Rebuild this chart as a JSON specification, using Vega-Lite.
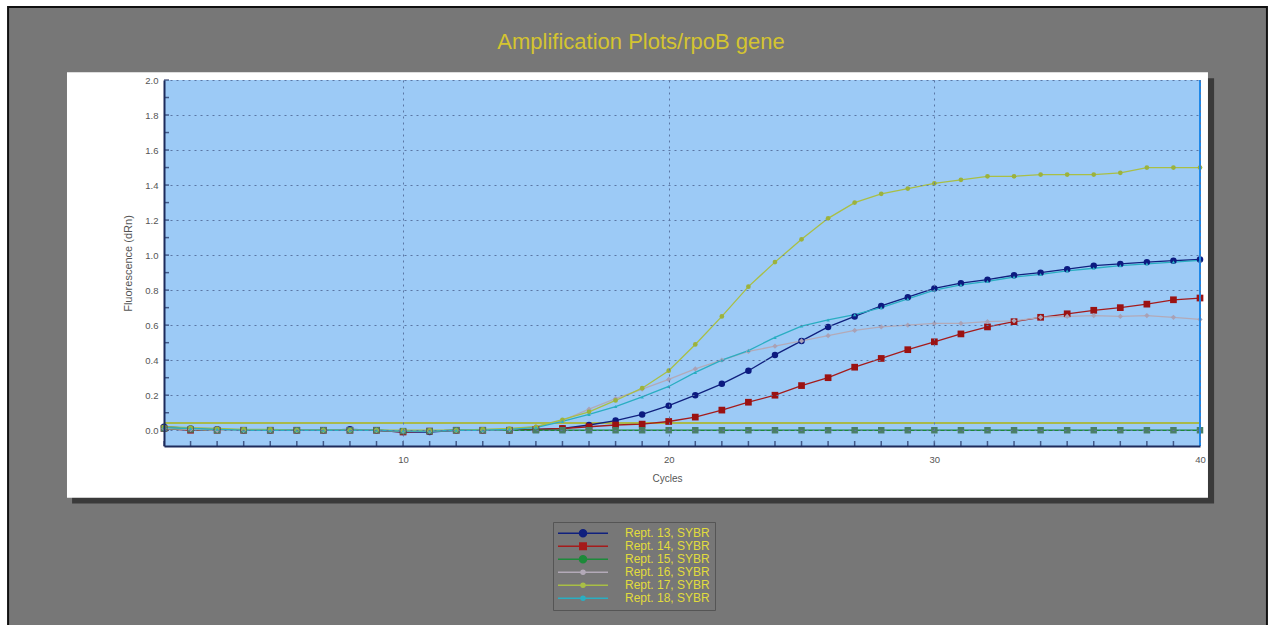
{
  "$schema": "https://vega.github.io/schema/vega-lite/v6.json",
  "width": 1036,
  "height": 366,
  "autosize": {"type": "none"},
  "padding": {"left": 164, "top": 80, "right": 72, "bottom": 179},
  "background": "#ffffff",
  "config": {"view": {"stroke": null}, "font": "Liberation Sans"},
  "title": {"text": "Amplification Plots/rpoB gene", "color": "#d4c430", "fontSize": 22, "fontWeight": "normal", "font": "Liberation Sans", "anchor": "middle", "dx": -41, "dy": 48, "offset": 0},
  "datasets": {
    "frame": [{}],
    "threshold": [{"level": 0.042}],
    "yticks": [{"v":0.0},{"v":0.1},{"v":0.2},{"v":0.3},{"v":0.4},{"v":0.5},{"v":0.6},{"v":0.7},{"v":0.8},{"v":0.9},{"v":1.0},{"v":1.1},{"v":1.2},{"v":1.3},{"v":1.4},{"v":1.5},{"v":1.6},{"v":1.7},{"v":1.8},{"v":1.9},{"v":2.0}],
    "curves": [
      {"cycle":1,"sample":"Rept. 13, SYBR","dRn":0.02},{"cycle":2,"sample":"Rept. 13, SYBR","dRn":0.01},{"cycle":3,"sample":"Rept. 13, SYBR","dRn":0.005},{"cycle":4,"sample":"Rept. 13, SYBR","dRn":0.0},{"cycle":5,"sample":"Rept. 13, SYBR","dRn":0.0},{"cycle":6,"sample":"Rept. 13, SYBR","dRn":0.0},{"cycle":7,"sample":"Rept. 13, SYBR","dRn":0.0},{"cycle":8,"sample":"Rept. 13, SYBR","dRn":0.005},{"cycle":9,"sample":"Rept. 13, SYBR","dRn":0.0},{"cycle":10,"sample":"Rept. 13, SYBR","dRn":-0.01},
      {"cycle":11,"sample":"Rept. 13, SYBR","dRn":-0.01},{"cycle":12,"sample":"Rept. 13, SYBR","dRn":0.0},{"cycle":13,"sample":"Rept. 13, SYBR","dRn":0.0},{"cycle":14,"sample":"Rept. 13, SYBR","dRn":0.0},{"cycle":15,"sample":"Rept. 13, SYBR","dRn":0.005},{"cycle":16,"sample":"Rept. 13, SYBR","dRn":0.01},{"cycle":17,"sample":"Rept. 13, SYBR","dRn":0.03},{"cycle":18,"sample":"Rept. 13, SYBR","dRn":0.055},{"cycle":19,"sample":"Rept. 13, SYBR","dRn":0.09},{"cycle":20,"sample":"Rept. 13, SYBR","dRn":0.14},
      {"cycle":21,"sample":"Rept. 13, SYBR","dRn":0.2},{"cycle":22,"sample":"Rept. 13, SYBR","dRn":0.265},{"cycle":23,"sample":"Rept. 13, SYBR","dRn":0.34},{"cycle":24,"sample":"Rept. 13, SYBR","dRn":0.43},{"cycle":25,"sample":"Rept. 13, SYBR","dRn":0.51},{"cycle":26,"sample":"Rept. 13, SYBR","dRn":0.59},{"cycle":27,"sample":"Rept. 13, SYBR","dRn":0.65},{"cycle":28,"sample":"Rept. 13, SYBR","dRn":0.71},{"cycle":29,"sample":"Rept. 13, SYBR","dRn":0.76},{"cycle":30,"sample":"Rept. 13, SYBR","dRn":0.81},
      {"cycle":31,"sample":"Rept. 13, SYBR","dRn":0.84},{"cycle":32,"sample":"Rept. 13, SYBR","dRn":0.86},{"cycle":33,"sample":"Rept. 13, SYBR","dRn":0.885},{"cycle":34,"sample":"Rept. 13, SYBR","dRn":0.9},{"cycle":35,"sample":"Rept. 13, SYBR","dRn":0.92},{"cycle":36,"sample":"Rept. 13, SYBR","dRn":0.94},{"cycle":37,"sample":"Rept. 13, SYBR","dRn":0.95},{"cycle":38,"sample":"Rept. 13, SYBR","dRn":0.96},{"cycle":39,"sample":"Rept. 13, SYBR","dRn":0.968},{"cycle":40,"sample":"Rept. 13, SYBR","dRn":0.975},

      {"cycle":1,"sample":"Rept. 14, SYBR","dRn":0.01},{"cycle":2,"sample":"Rept. 14, SYBR","dRn":0.0},{"cycle":3,"sample":"Rept. 14, SYBR","dRn":0.0},{"cycle":4,"sample":"Rept. 14, SYBR","dRn":0.0},{"cycle":5,"sample":"Rept. 14, SYBR","dRn":0.0},{"cycle":6,"sample":"Rept. 14, SYBR","dRn":0.0},{"cycle":7,"sample":"Rept. 14, SYBR","dRn":0.0},{"cycle":8,"sample":"Rept. 14, SYBR","dRn":0.0},{"cycle":9,"sample":"Rept. 14, SYBR","dRn":0.0},{"cycle":10,"sample":"Rept. 14, SYBR","dRn":-0.01},
      {"cycle":11,"sample":"Rept. 14, SYBR","dRn":-0.005},{"cycle":12,"sample":"Rept. 14, SYBR","dRn":0.0},{"cycle":13,"sample":"Rept. 14, SYBR","dRn":0.0},{"cycle":14,"sample":"Rept. 14, SYBR","dRn":0.0},{"cycle":15,"sample":"Rept. 14, SYBR","dRn":0.005},{"cycle":16,"sample":"Rept. 14, SYBR","dRn":0.01},{"cycle":17,"sample":"Rept. 14, SYBR","dRn":0.02},{"cycle":18,"sample":"Rept. 14, SYBR","dRn":0.03},{"cycle":19,"sample":"Rept. 14, SYBR","dRn":0.035},{"cycle":20,"sample":"Rept. 14, SYBR","dRn":0.05},
      {"cycle":21,"sample":"Rept. 14, SYBR","dRn":0.075},{"cycle":22,"sample":"Rept. 14, SYBR","dRn":0.115},{"cycle":23,"sample":"Rept. 14, SYBR","dRn":0.16},{"cycle":24,"sample":"Rept. 14, SYBR","dRn":0.2},{"cycle":25,"sample":"Rept. 14, SYBR","dRn":0.255},{"cycle":26,"sample":"Rept. 14, SYBR","dRn":0.3},{"cycle":27,"sample":"Rept. 14, SYBR","dRn":0.36},{"cycle":28,"sample":"Rept. 14, SYBR","dRn":0.41},{"cycle":29,"sample":"Rept. 14, SYBR","dRn":0.46},{"cycle":30,"sample":"Rept. 14, SYBR","dRn":0.505},
      {"cycle":31,"sample":"Rept. 14, SYBR","dRn":0.55},{"cycle":32,"sample":"Rept. 14, SYBR","dRn":0.59},{"cycle":33,"sample":"Rept. 14, SYBR","dRn":0.62},{"cycle":34,"sample":"Rept. 14, SYBR","dRn":0.645},{"cycle":35,"sample":"Rept. 14, SYBR","dRn":0.665},{"cycle":36,"sample":"Rept. 14, SYBR","dRn":0.685},{"cycle":37,"sample":"Rept. 14, SYBR","dRn":0.7},{"cycle":38,"sample":"Rept. 14, SYBR","dRn":0.72},{"cycle":39,"sample":"Rept. 14, SYBR","dRn":0.745},{"cycle":40,"sample":"Rept. 14, SYBR","dRn":0.755},

      {"cycle":1,"sample":"Rept. 15, SYBR","dRn":0.01},{"cycle":2,"sample":"Rept. 15, SYBR","dRn":0.005},{"cycle":3,"sample":"Rept. 15, SYBR","dRn":0.0},{"cycle":4,"sample":"Rept. 15, SYBR","dRn":0.0},{"cycle":5,"sample":"Rept. 15, SYBR","dRn":0.0},{"cycle":6,"sample":"Rept. 15, SYBR","dRn":0.0},{"cycle":7,"sample":"Rept. 15, SYBR","dRn":0.0},{"cycle":8,"sample":"Rept. 15, SYBR","dRn":0.0},{"cycle":9,"sample":"Rept. 15, SYBR","dRn":0.0},{"cycle":10,"sample":"Rept. 15, SYBR","dRn":-0.005},
      {"cycle":11,"sample":"Rept. 15, SYBR","dRn":-0.005},{"cycle":12,"sample":"Rept. 15, SYBR","dRn":0.0},{"cycle":13,"sample":"Rept. 15, SYBR","dRn":0.0},{"cycle":14,"sample":"Rept. 15, SYBR","dRn":0.0},{"cycle":15,"sample":"Rept. 15, SYBR","dRn":0.0},{"cycle":16,"sample":"Rept. 15, SYBR","dRn":0.0},{"cycle":17,"sample":"Rept. 15, SYBR","dRn":0.0},{"cycle":18,"sample":"Rept. 15, SYBR","dRn":0.0},{"cycle":19,"sample":"Rept. 15, SYBR","dRn":0.0},{"cycle":20,"sample":"Rept. 15, SYBR","dRn":0.0},
      {"cycle":21,"sample":"Rept. 15, SYBR","dRn":0.0},{"cycle":22,"sample":"Rept. 15, SYBR","dRn":0.0},{"cycle":23,"sample":"Rept. 15, SYBR","dRn":0.0},{"cycle":24,"sample":"Rept. 15, SYBR","dRn":0.0},{"cycle":25,"sample":"Rept. 15, SYBR","dRn":0.0},{"cycle":26,"sample":"Rept. 15, SYBR","dRn":0.0},{"cycle":27,"sample":"Rept. 15, SYBR","dRn":0.0},{"cycle":28,"sample":"Rept. 15, SYBR","dRn":0.0},{"cycle":29,"sample":"Rept. 15, SYBR","dRn":0.0},{"cycle":30,"sample":"Rept. 15, SYBR","dRn":0.0},
      {"cycle":31,"sample":"Rept. 15, SYBR","dRn":0.0},{"cycle":32,"sample":"Rept. 15, SYBR","dRn":0.0},{"cycle":33,"sample":"Rept. 15, SYBR","dRn":0.0},{"cycle":34,"sample":"Rept. 15, SYBR","dRn":0.0},{"cycle":35,"sample":"Rept. 15, SYBR","dRn":0.0},{"cycle":36,"sample":"Rept. 15, SYBR","dRn":0.0},{"cycle":37,"sample":"Rept. 15, SYBR","dRn":0.0},{"cycle":38,"sample":"Rept. 15, SYBR","dRn":0.0},{"cycle":39,"sample":"Rept. 15, SYBR","dRn":0.0},{"cycle":40,"sample":"Rept. 15, SYBR","dRn":0.0},

      {"cycle":1,"sample":"Rept. 16, SYBR","dRn":0.01},{"cycle":2,"sample":"Rept. 16, SYBR","dRn":0.005},{"cycle":3,"sample":"Rept. 16, SYBR","dRn":0.0},{"cycle":4,"sample":"Rept. 16, SYBR","dRn":0.0},{"cycle":5,"sample":"Rept. 16, SYBR","dRn":0.0},{"cycle":6,"sample":"Rept. 16, SYBR","dRn":0.0},{"cycle":7,"sample":"Rept. 16, SYBR","dRn":0.0},{"cycle":8,"sample":"Rept. 16, SYBR","dRn":0.0},{"cycle":9,"sample":"Rept. 16, SYBR","dRn":0.0},{"cycle":10,"sample":"Rept. 16, SYBR","dRn":-0.005},
      {"cycle":11,"sample":"Rept. 16, SYBR","dRn":-0.005},{"cycle":12,"sample":"Rept. 16, SYBR","dRn":0.0},{"cycle":13,"sample":"Rept. 16, SYBR","dRn":0.0},{"cycle":14,"sample":"Rept. 16, SYBR","dRn":0.005},{"cycle":15,"sample":"Rept. 16, SYBR","dRn":0.02},{"cycle":16,"sample":"Rept. 16, SYBR","dRn":0.055},{"cycle":17,"sample":"Rept. 16, SYBR","dRn":0.12},{"cycle":18,"sample":"Rept. 16, SYBR","dRn":0.18},{"cycle":19,"sample":"Rept. 16, SYBR","dRn":0.235},{"cycle":20,"sample":"Rept. 16, SYBR","dRn":0.29},
      {"cycle":21,"sample":"Rept. 16, SYBR","dRn":0.35},{"cycle":22,"sample":"Rept. 16, SYBR","dRn":0.4},{"cycle":23,"sample":"Rept. 16, SYBR","dRn":0.45},{"cycle":24,"sample":"Rept. 16, SYBR","dRn":0.48},{"cycle":25,"sample":"Rept. 16, SYBR","dRn":0.51},{"cycle":26,"sample":"Rept. 16, SYBR","dRn":0.54},{"cycle":27,"sample":"Rept. 16, SYBR","dRn":0.57},{"cycle":28,"sample":"Rept. 16, SYBR","dRn":0.59},{"cycle":29,"sample":"Rept. 16, SYBR","dRn":0.6},{"cycle":30,"sample":"Rept. 16, SYBR","dRn":0.61},
      {"cycle":31,"sample":"Rept. 16, SYBR","dRn":0.61},{"cycle":32,"sample":"Rept. 16, SYBR","dRn":0.62},{"cycle":33,"sample":"Rept. 16, SYBR","dRn":0.625},{"cycle":34,"sample":"Rept. 16, SYBR","dRn":0.645},{"cycle":35,"sample":"Rept. 16, SYBR","dRn":0.65},{"cycle":36,"sample":"Rept. 16, SYBR","dRn":0.655},{"cycle":37,"sample":"Rept. 16, SYBR","dRn":0.65},{"cycle":38,"sample":"Rept. 16, SYBR","dRn":0.655},{"cycle":39,"sample":"Rept. 16, SYBR","dRn":0.645},{"cycle":40,"sample":"Rept. 16, SYBR","dRn":0.633},

      {"cycle":1,"sample":"Rept. 17, SYBR","dRn":0.02},{"cycle":2,"sample":"Rept. 17, SYBR","dRn":0.015},{"cycle":3,"sample":"Rept. 17, SYBR","dRn":0.01},{"cycle":4,"sample":"Rept. 17, SYBR","dRn":0.005},{"cycle":5,"sample":"Rept. 17, SYBR","dRn":0.005},{"cycle":6,"sample":"Rept. 17, SYBR","dRn":0.0},{"cycle":7,"sample":"Rept. 17, SYBR","dRn":0.0},{"cycle":8,"sample":"Rept. 17, SYBR","dRn":0.0},{"cycle":9,"sample":"Rept. 17, SYBR","dRn":0.0},{"cycle":10,"sample":"Rept. 17, SYBR","dRn":0.0},
      {"cycle":11,"sample":"Rept. 17, SYBR","dRn":0.0},{"cycle":12,"sample":"Rept. 17, SYBR","dRn":0.0},{"cycle":13,"sample":"Rept. 17, SYBR","dRn":0.005},{"cycle":14,"sample":"Rept. 17, SYBR","dRn":0.01},{"cycle":15,"sample":"Rept. 17, SYBR","dRn":0.02},{"cycle":16,"sample":"Rept. 17, SYBR","dRn":0.06},{"cycle":17,"sample":"Rept. 17, SYBR","dRn":0.105},{"cycle":18,"sample":"Rept. 17, SYBR","dRn":0.17},{"cycle":19,"sample":"Rept. 17, SYBR","dRn":0.24},{"cycle":20,"sample":"Rept. 17, SYBR","dRn":0.34},
      {"cycle":21,"sample":"Rept. 17, SYBR","dRn":0.49},{"cycle":22,"sample":"Rept. 17, SYBR","dRn":0.65},{"cycle":23,"sample":"Rept. 17, SYBR","dRn":0.82},{"cycle":24,"sample":"Rept. 17, SYBR","dRn":0.96},{"cycle":25,"sample":"Rept. 17, SYBR","dRn":1.09},{"cycle":26,"sample":"Rept. 17, SYBR","dRn":1.21},{"cycle":27,"sample":"Rept. 17, SYBR","dRn":1.3},{"cycle":28,"sample":"Rept. 17, SYBR","dRn":1.35},{"cycle":29,"sample":"Rept. 17, SYBR","dRn":1.38},{"cycle":30,"sample":"Rept. 17, SYBR","dRn":1.41},
      {"cycle":31,"sample":"Rept. 17, SYBR","dRn":1.43},{"cycle":32,"sample":"Rept. 17, SYBR","dRn":1.45},{"cycle":33,"sample":"Rept. 17, SYBR","dRn":1.45},{"cycle":34,"sample":"Rept. 17, SYBR","dRn":1.46},{"cycle":35,"sample":"Rept. 17, SYBR","dRn":1.46},{"cycle":36,"sample":"Rept. 17, SYBR","dRn":1.46},{"cycle":37,"sample":"Rept. 17, SYBR","dRn":1.47},{"cycle":38,"sample":"Rept. 17, SYBR","dRn":1.5},{"cycle":39,"sample":"Rept. 17, SYBR","dRn":1.5},{"cycle":40,"sample":"Rept. 17, SYBR","dRn":1.5},

      {"cycle":1,"sample":"Rept. 18, SYBR","dRn":0.015},{"cycle":2,"sample":"Rept. 18, SYBR","dRn":0.01},{"cycle":3,"sample":"Rept. 18, SYBR","dRn":0.005},{"cycle":4,"sample":"Rept. 18, SYBR","dRn":0.0},{"cycle":5,"sample":"Rept. 18, SYBR","dRn":0.0},{"cycle":6,"sample":"Rept. 18, SYBR","dRn":0.0},{"cycle":7,"sample":"Rept. 18, SYBR","dRn":0.0},{"cycle":8,"sample":"Rept. 18, SYBR","dRn":0.0},{"cycle":9,"sample":"Rept. 18, SYBR","dRn":0.0},{"cycle":10,"sample":"Rept. 18, SYBR","dRn":-0.005},
      {"cycle":11,"sample":"Rept. 18, SYBR","dRn":-0.005},{"cycle":12,"sample":"Rept. 18, SYBR","dRn":0.0},{"cycle":13,"sample":"Rept. 18, SYBR","dRn":0.0},{"cycle":14,"sample":"Rept. 18, SYBR","dRn":0.005},{"cycle":15,"sample":"Rept. 18, SYBR","dRn":0.015},{"cycle":16,"sample":"Rept. 18, SYBR","dRn":0.05},{"cycle":17,"sample":"Rept. 18, SYBR","dRn":0.09},{"cycle":18,"sample":"Rept. 18, SYBR","dRn":0.135},{"cycle":19,"sample":"Rept. 18, SYBR","dRn":0.19},{"cycle":20,"sample":"Rept. 18, SYBR","dRn":0.25},
      {"cycle":21,"sample":"Rept. 18, SYBR","dRn":0.33},{"cycle":22,"sample":"Rept. 18, SYBR","dRn":0.4},{"cycle":23,"sample":"Rept. 18, SYBR","dRn":0.455},{"cycle":24,"sample":"Rept. 18, SYBR","dRn":0.53},{"cycle":25,"sample":"Rept. 18, SYBR","dRn":0.595},{"cycle":26,"sample":"Rept. 18, SYBR","dRn":0.63},{"cycle":27,"sample":"Rept. 18, SYBR","dRn":0.66},{"cycle":28,"sample":"Rept. 18, SYBR","dRn":0.7},{"cycle":29,"sample":"Rept. 18, SYBR","dRn":0.75},{"cycle":30,"sample":"Rept. 18, SYBR","dRn":0.8},
      {"cycle":31,"sample":"Rept. 18, SYBR","dRn":0.83},{"cycle":32,"sample":"Rept. 18, SYBR","dRn":0.85},{"cycle":33,"sample":"Rept. 18, SYBR","dRn":0.875},{"cycle":34,"sample":"Rept. 18, SYBR","dRn":0.89},{"cycle":35,"sample":"Rept. 18, SYBR","dRn":0.91},{"cycle":36,"sample":"Rept. 18, SYBR","dRn":0.925},{"cycle":37,"sample":"Rept. 18, SYBR","dRn":0.94},{"cycle":38,"sample":"Rept. 18, SYBR","dRn":0.95},{"cycle":39,"sample":"Rept. 18, SYBR","dRn":0.96},{"cycle":40,"sample":"Rept. 18, SYBR","dRn":0.97}
    ]
  },
  "layer": [
    {
      "data": {"name": "frame"},
      "mark": {"type": "rect", "fill": "#777777", "stroke": "#111111", "strokeWidth": 2},
      "encoding": {
        "x": {"datum": -4.87, "type": "quantitative", "scale": {"domain": [1, 40], "nice": false, "zero": false}},
        "x2": {"datum": 42.52},
        "y": {"datum": 2.417, "type": "quantitative", "scale": {"domain": [-0.09, 2.0], "nice": false, "zero": false}},
        "y2": {"datum": -1.3}
      }
    },
    {
      "data": {"name": "frame"},
      "mark": {"type": "rect", "fill": "#3a3a3a"},
      "encoding": {
        "x": {"datum": -2.46, "type": "quantitative", "scale": {"domain": [1, 40], "nice": false, "zero": false}},
        "x2": {"datum": 40.53},
        "y": {"datum": 2.01, "type": "quantitative", "scale": {"domain": [-0.09, 2.0], "nice": false, "zero": false}},
        "y2": {"datum": -0.419}
      }
    },
    {
      "data": {"name": "frame"},
      "mark": {"type": "rect", "fill": "#ffffff"},
      "encoding": {
        "x": {"datum": -2.652, "type": "quantitative", "scale": {"domain": [1, 40], "nice": false, "zero": false}},
        "x2": {"datum": 40.3},
        "y": {"datum": 2.044, "type": "quantitative", "scale": {"domain": [-0.09, 2.0], "nice": false, "zero": false}},
        "y2": {"datum": -0.385}
      }
    },
    {
      "data": {"name": "frame"},
      "mark": {"type": "rect", "fill": "#9ccaf6"},
      "encoding": {
        "x": {"datum": 1, "type": "quantitative", "scale": {"domain": [1, 40], "nice": false, "zero": false}},
        "x2": {"datum": 40},
        "y": {"datum": 2.0, "type": "quantitative", "scale": {"domain": [-0.09, 2.0], "nice": false, "zero": false}},
        "y2": {"datum": -0.09}
      }
    },
    {
      "data": {"name": "curves"},
      "transform": [{"filter": {"field": "sample", "equal": "Rept. 13, SYBR"}}],
      "mark": {"type": "tick", "orient": "vertical", "color": "#1c2b5c", "size": 5, "thickness": 1.5, "yOffset": -2.5},
      "encoding": {
        "x": {"field": "cycle", "type": "quantitative", "scale": {"domain": [1, 40], "nice": false, "zero": false}},
        "y": {"datum": -0.09, "type": "quantitative", "scale": {"domain": [-0.09, 2.0], "nice": false, "zero": false}}
      }
    },
    {
      "data": {"name": "yticks"},
      "mark": {"type": "tick", "orient": "horizontal", "color": "#1c2b5c", "size": 5, "thickness": 1.5, "xOffset": 2.5},
      "encoding": {
        "x": {"datum": 1, "type": "quantitative", "scale": {"domain": [1, 40], "nice": false, "zero": false}},
        "y": {"field": "v", "type": "quantitative", "scale": {"domain": [-0.09, 2.0], "nice": false, "zero": false}}
      }
    },
    {
      "data": {"name": "threshold"},
      "mark": {"type": "rule", "color": "#a9b94a", "strokeWidth": 2},
      "encoding": {
        "y": {"field": "level", "type": "quantitative", "scale": {"domain": [-0.09, 2.0], "nice": false, "zero": false}}
      }
    },
    {
      "data": {"name": "curves"},
      "mark": {"type": "line", "strokeWidth": 1.3},
      "encoding": {
        "x": {"field": "cycle", "type": "quantitative", "scale": {"domain": [1, 40], "nice": false, "zero": false},
          "axis": {"title": "Cycles", "titleX": 503, "titleFontSize": 10, "titleFontWeight": "normal", "titleColor": "#555555", "titlePadding": 10,
            "values": [10, 20, 30, 40], "tickCount": 100, "format": "d", "labelOverlap": false,
            "labelFontSize": 9.5, "labelColor": "#555555", "labelPadding": 8, "labelFlush": false,
            "ticks": false,
            "domainColor": "#1c2b5c", "domainWidth": 2,
            "grid": true, "gridColor": "#5a76a4", "gridDash": [2, 4], "gridWidth": 1,
            "zindex": 1}},
        "y": {"field": "dRn", "type": "quantitative", "scale": {"domain": [-0.09, 2.0], "nice": false, "zero": false},
          "axis": {"title": "Fluorescence (dRn)", "titleFontSize": 11, "titleFontWeight": "normal", "titleColor": "#555555", "titlePadding": 11,
            "values": [0.0, 0.2, 0.4, 0.6, 0.8, 1.0, 1.2, 1.4, 1.6, 1.8, 2.0], "tickCount": 100, "format": ".1f", "labelOverlap": false,
            "labelFontSize": 9.5, "labelColor": "#555555", "labelPadding": 6,
            "ticks": false,
            "domainColor": "#1c2b5c", "domainWidth": 2,
            "grid": true, "gridColor": "#5a76a4", "gridDash": [2, 4], "gridWidth": 1,
            "zindex": 1}},
        "color": {"field": "sample", "type": "nominal",
          "scale": {"domain": ["Rept. 13, SYBR","Rept. 14, SYBR","Rept. 15, SYBR","Rept. 16, SYBR","Rept. 17, SYBR","Rept. 18, SYBR"],
                    "range": ["#10207e","#a51b1b","#1d8a3a","#b3aab8","#a9bf45","#2aaec2"]},
          "legend": {"orient": "none", "legendX": 389, "legendY": 442, "title": null,
            "fillColor": "#777777", "strokeColor": "#555555", "padding": 5,
            "labelColor": "#e2dc3c", "labelFontSize": 12, "labelFont": "Liberation Sans",
            "symbolType": "M-5,0H5M-0.7,0A0.7,0.7,0,1,0,0.7,0A0.7,0.7,0,1,0,-0.7,0Z",
            "symbolSize": 100, "symbolStrokeWidth": 1.5, "symbolOffset": 19, "labelOffset": 36, "rowPadding": 0, "clipHeight": 12.6,
            "encode": {"symbols": {"update": {
              "fill": {"scale": "color", "field": "value"},
              "shape": {"signal": "datum.value === 'Rept. 14, SYBR' ? 'M-5,0H5M-0.65,-0.65H0.65V0.65H-0.65Z' : (datum.value === 'Rept. 13, SYBR' || datum.value === 'Rept. 15, SYBR') ? 'M-5,0H5M-0.7,0A0.7,0.7,0,1,0,0.7,0A0.7,0.7,0,1,0,-0.7,0Z' : 'M-5,0H5M-0.4,0A0.4,0.4,0,1,0,0.4,0A0.4,0.4,0,1,0,-0.4,0Z'"}
            }}}}
        }
      }
    },
    {
      "data": {"name": "curves"},
      "transform": [{"filter": {"field": "sample", "equal": "Rept. 13, SYBR"}}],
      "mark": {"type": "point", "filled": true, "opacity": 1, "shape": "circle", "size": 42, "color": "#0c1a80"},
      "encoding": {
        "x": {"field": "cycle", "type": "quantitative", "scale": {"domain": [1, 40], "nice": false, "zero": false}},
        "y": {"field": "dRn", "type": "quantitative", "scale": {"domain": [-0.09, 2.0], "nice": false, "zero": false}}
      }
    },
    {
      "data": {"name": "curves"},
      "transform": [{"filter": {"field": "sample", "equal": "Rept. 14, SYBR"}}],
      "mark": {"type": "point", "filled": true, "opacity": 1, "shape": "square", "size": 45, "color": "#9b1212"},
      "encoding": {
        "x": {"field": "cycle", "type": "quantitative", "scale": {"domain": [1, 40], "nice": false, "zero": false}},
        "y": {"field": "dRn", "type": "quantitative", "scale": {"domain": [-0.09, 2.0], "nice": false, "zero": false}}
      }
    },
    {
      "data": {"name": "curves"},
      "transform": [{"filter": {"field": "sample", "equal": "Rept. 15, SYBR"}}],
      "mark": {"type": "point", "filled": true, "opacity": 1, "shape": "square", "size": 42, "color": "#4a7f66"},
      "encoding": {
        "x": {"field": "cycle", "type": "quantitative", "scale": {"domain": [1, 40], "nice": false, "zero": false}},
        "y": {"field": "dRn", "type": "quantitative", "scale": {"domain": [-0.09, 2.0], "nice": false, "zero": false}}
      }
    },
    {
      "data": {"name": "curves"},
      "transform": [{"filter": {"field": "sample", "equal": "Rept. 16, SYBR"}}],
      "mark": {"type": "point", "filled": true, "opacity": 1, "shape": "diamond", "size": 28, "color": "#a9a1b5"},
      "encoding": {
        "x": {"field": "cycle", "type": "quantitative", "scale": {"domain": [1, 40], "nice": false, "zero": false}},
        "y": {"field": "dRn", "type": "quantitative", "scale": {"domain": [-0.09, 2.0], "nice": false, "zero": false}}
      }
    },
    {
      "data": {"name": "curves"},
      "transform": [{"filter": {"field": "sample", "equal": "Rept. 17, SYBR"}}],
      "mark": {"type": "point", "filled": true, "opacity": 1, "shape": "circle", "size": 22, "color": "#9cb23c"},
      "encoding": {
        "x": {"field": "cycle", "type": "quantitative", "scale": {"domain": [1, 40], "nice": false, "zero": false}},
        "y": {"field": "dRn", "type": "quantitative", "scale": {"domain": [-0.09, 2.0], "nice": false, "zero": false}}
      }
    },
    {
      "data": {"name": "curves"},
      "transform": [{"filter": {"field": "sample", "equal": "Rept. 18, SYBR"}}],
      "mark": {"type": "point", "filled": true, "opacity": 1, "shape": "triangle-up", "size": 12, "color": "#2aaec2"},
      "encoding": {
        "x": {"field": "cycle", "type": "quantitative", "scale": {"domain": [1, 40], "nice": false, "zero": false}},
        "y": {"field": "dRn", "type": "quantitative", "scale": {"domain": [-0.09, 2.0], "nice": false, "zero": false}}
      }
    },
    {
      "data": {"name": "frame"},
      "mark": {"type": "rule", "color": "#1e88e8", "strokeWidth": 2},
      "encoding": {
        "x": {"datum": 40, "type": "quantitative", "scale": {"domain": [1, 40], "nice": false, "zero": false}}
      }
    }
  ]
}
